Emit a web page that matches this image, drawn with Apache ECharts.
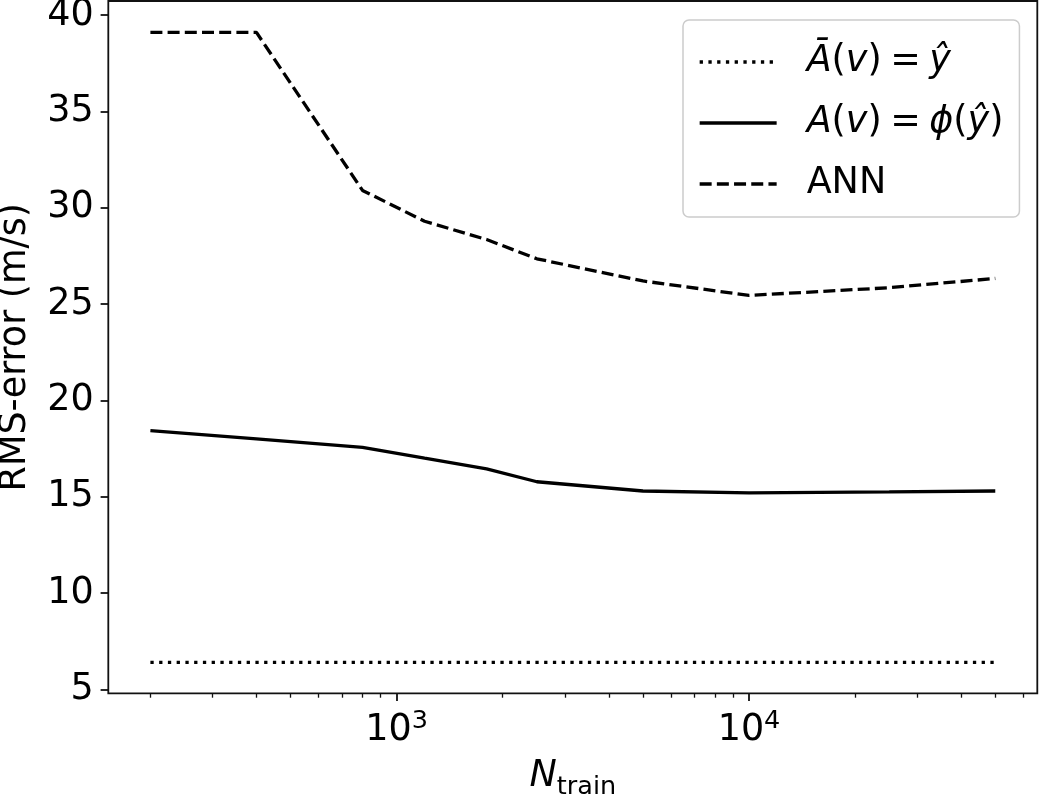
<!DOCTYPE html>
<html>
<head>
<meta charset="utf-8">
<script src="https://cdn.jsdelivr.net/npm/echarts@6/dist/echarts.min.js"></script>
<style>html,body{margin:0;padding:0;background:#fff}#c{width:1039px;height:795px}</style>
</head>
<body>
<div id="c"></div>
<script>
// ---- data ----
const nTrain = [200, 400, 800, 1200, 1800, 2500, 5000, 10000, 25000, 50000];
const errBaseline = [6.4, 6.4, 6.4, 6.4, 6.4, 6.4, 6.4, 6.4, 6.4, 6.4];
const errPhi = [18.43, 18.0, 17.56, 17.0, 16.45, 15.78, 15.3, 15.2, 15.25, 15.3];
const errAnn = [39.1, 39.1, 30.9, 29.3, 28.35, 27.35, 26.2, 25.45, 25.85, 26.33];
const xMajorTicks = [1000, 10000];
const xMinorTicks = [200, 300, 400, 500, 600, 700, 800, 900,
                     2000, 3000, 4000, 5000, 6000, 7000, 8000, 9000,
                     20000, 30000, 40000, 50000, 60000];
const yTicks = [5, 10, 15, 20, 25, 30, 35, 40];
const xRange = [151.9, 65800];
const yRange = [4.8, 40.73];

const FONT = 'DejaVu Sans';
const FS = 36.5;
const SUB = 25.5;
const lg = Math.log10;

const chart = echarts.init(document.getElementById('c'), null, {renderer: 'canvas'});

const pair = vals => nTrain.map((n, i) => [n, vals[i]]);

const legendText = {
  base: '{sp| }{i|Ā}{r|(}{i|v}{r|)}{g| }{r|=}{g| }{i|ŷ}',
  phi: '{sp| }{i|A}{r|(}{i|v}{r|)}{g| }{r|=}{g| }{i|ϕ}{r|(}{i|ŷ}{r|)}',
  ann: '{sp| }{r|ANN}'
};
const tokenBase = {fontFamily: FONT, fontSize: FS, color: '#000'};

const option = {
  animation: false,
  backgroundColor: '#fff',
  grid: {
    left: 108.3, right: 1.7, top: 1, bottom: 101.7,
    containLabel: false, outerBoundsMode: 'none',
    show: true, borderColor: '#111', borderWidth: 1.8, backgroundColor: 'transparent'
  },
  legend: {
    orient: 'vertical', left: 683, top: 20,
    padding: [21, 16, 12, 15],
    itemGap: 19,
    itemWidth: 77, itemHeight: 14,
    selectedMode: false,
    backgroundColor: 'rgba(255,255,255,0.8)',
    borderColor: '#cccccc', borderWidth: 1.5, borderRadius: 6,
    lineStyle: {width: 3.3, color: '#000'},
    itemStyle: {opacity: 0, borderWidth: 0},
    data: ['base', 'phi', 'ann'],
    formatter: name => legendText[name],
    textStyle: {
      fontFamily: FONT, fontSize: FS, color: '#000', lineHeight: 42,
      rich: {
        sp: {width: 25, fontSize: 10},
        g: {width: 8.5, fontSize: 10},
        i: Object.assign({fontStyle: 'italic', lineHeight: 42}, tokenBase),
        r: Object.assign({lineHeight: 42}, tokenBase)
      }
    }
  },
  xAxis: [
    {
      type: 'log', logBase: 10, min: xRange[0], max: xRange[1],
      axisLine: {show: false}, axisTick: {show: false},
      axisLabel: {show: false}, splitLine: {show: false}
    },
    {
      type: 'value', position: 'bottom', min: lg(xRange[0]), max: lg(xRange[1]),
      axisLine: {show: false, onZero: false}, splitLine: {show: false},
      axisTick: {customValues: xMajorTicks.map(lg), length: 7.7, lineStyle: {color: '#111', width: 1.8}},
      axisLabel: {
        customValues: xMajorTicks.map(lg), margin: 15,
        formatter: v => '{b|10}{s|' + Math.round(v) + '}',
        rich: {
          b: {fontFamily: FONT, fontSize: FS, color: '#000', padding: [4, 0, 0, 0]},
          s: {fontFamily: FONT, fontSize: SUB, color: '#000', verticalAlign: 'top'}
        }
      },
      name: '{n|N}{t|train}', nameLocation: 'middle', nameGap: 65,
      nameTextStyle: {
        rich: {
          n: {fontFamily: FONT, fontSize: FS, fontStyle: 'italic', color: '#000', verticalAlign: 'top'},
          t: {fontFamily: FONT, fontSize: SUB, color: '#000', verticalAlign: 'top', padding: [15.6, 0, 0, 0]}
        }
      }
    },
    {
      type: 'value', position: 'bottom', min: lg(xRange[0]), max: lg(xRange[1]),
      axisLine: {show: false, onZero: false}, splitLine: {show: false},
      axisTick: {customValues: xMinorTicks.map(lg), length: 4.4, lineStyle: {color: '#111', width: 1.3}},
      axisLabel: {show: false}
    }
  ],
  yAxis: [{
    type: 'value', min: yRange[0], max: yRange[1],
    axisLine: {show: false, onZero: false}, splitLine: {show: false},
    axisTick: {customValues: yTicks, length: 7.7, lineStyle: {color: '#111', width: 1.8}},
    axisLabel: {customValues: yTicks, margin: 14.5, fontFamily: FONT, fontSize: FS, color: '#000'},
    name: 'RMS-error (m/s)', nameLocation: 'middle', nameGap: 70, nameRotate: 90,
    nameTextStyle: {fontFamily: FONT, fontSize: FS, color: '#000', lineHeight: 42}
  }],
  series: [
    {
      name: 'base', type: 'line', xAxisIndex: 0, yAxisIndex: 0, symbol: 'none',
      lineStyle: {color: '#000', width: 3.3, type: [3.3, 5.45]}, itemStyle: {color: '#000'},
      data: pair(errBaseline)
    },
    {
      name: 'phi', type: 'line', xAxisIndex: 0, yAxisIndex: 0, symbol: 'none',
      lineStyle: {color: '#000', width: 3.3, type: 'solid'}, itemStyle: {color: '#000'},
      data: pair(errPhi)
    },
    {
      name: 'ann', type: 'line', xAxisIndex: 0, yAxisIndex: 0, symbol: 'none',
      lineStyle: {color: '#000', width: 3.3, type: [12, 5.2]}, itemStyle: {color: '#000'},
      data: pair(errAnn)
    }
  ]
};
chart.setOption(option);
</script>
</body>
</html>
